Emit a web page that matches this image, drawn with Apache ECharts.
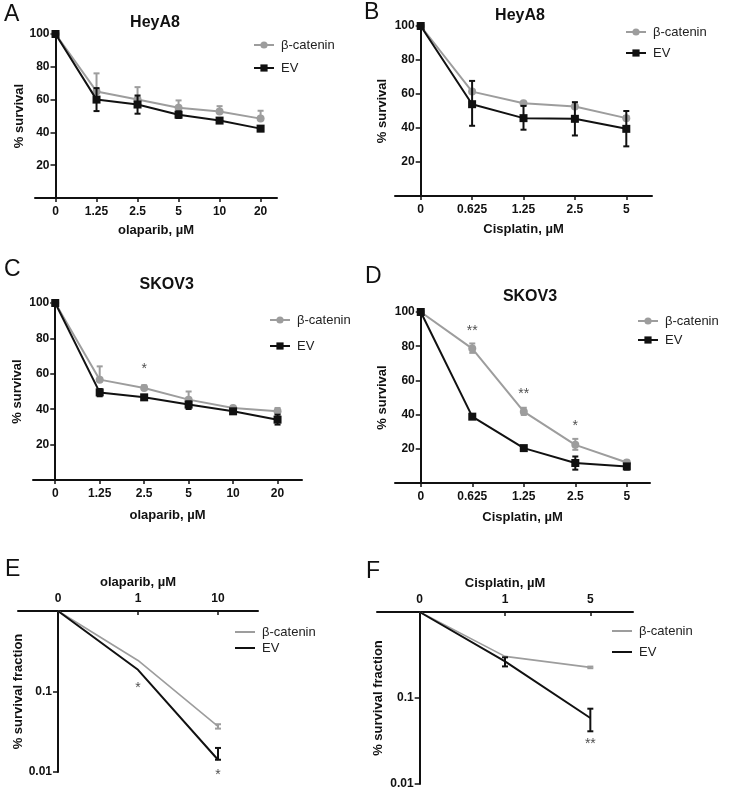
<!DOCTYPE html>
<html><head><meta charset="utf-8">
<script src="https://cdn.jsdelivr.net/npm/echarts@6/dist/echarts.min.js"></script>
<style>html,body{margin:0;padding:0;background:#fff}#c{width:729px;height:791px}</style>
</head><body><div id="c"></div>
<script>
// ---------- DATA ----------
// Panel A: HeyA8, olaparib
const A_cats = ['0', '1.25', '2.5', '5', '10', '20'];
const A_bcat = [100, 65, 60, 55, 52.8, 48.4];
const A_bcat_lo = [100, 65, 60, 55, 52.8, 48.4];
const A_bcat_hi = [100, 76, 67.6, 59.5, 56, 53.2];
const A_ev = [100, 60, 57, 50.8, 47.2, 42.3];
const A_ev_lo = [100, 53, 51.4, 48.8, 46.2, 40.8];
const A_ev_hi = [100, 67, 62.5, 52.8, 48.2, 43.8];
const A_stars = [];

// Panel B: HeyA8, cisplatin
const B_cats = ['0', '0.625', '1.25', '2.5', '5'];
const B_bcat = [100, 61.4, 54.6, 52.6, 45.8];
const B_bcat_lo = [100, 61.4, 54.6, 52.6, 45.8];
const B_bcat_hi = [100, 62.2, 55.3, 53.5, 47];
const B_ev = [100, 54, 45.8, 45.4, 39.5];
const B_ev_lo = [100, 41.3, 39, 35.6, 29.2];
const B_ev_hi = [100, 67.7, 53, 55.2, 50];
const B_stars = [];

// Panel C: SKOV3, olaparib
const C_cats = ['0', '1.25', '2.5', '5', '10', '20'];
const C_bcat = [100, 56.7, 52, 45.4, 40.7, 38.8];
const C_bcat_lo = [100, 56.7, 51, 45.4, 40.2, 37.5];
const C_bcat_hi = [100, 64.2, 53.5, 50, 41.2, 40.7];
const C_ev = [100, 49.5, 46.7, 42.6, 38.8, 34.1];
const C_ev_lo = [100, 47.3, 46, 40.1, 38, 31.3];
const C_ev_hi = [100, 51.4, 47.5, 44.4, 39.6, 36.9];
const C_stars = [[2, 64.2, '*']];

// Panel D: SKOV3, cisplatin
const D_cats = ['0', '0.625', '1.25', '2.5', '5'];
const D_bcat = [100, 78.6, 41.7, 22.3, 12];
const D_bcat_lo = [100, 76.1, 39.8, 19.4, 11];
const D_bcat_hi = [100, 81.6, 44, 25.8, 13];
const D_ev = [100, 38.8, 20.4, 11.7, 9.7];
const D_ev_lo = [100, 38, 19.6, 7.8, 7.8];
const D_ev_hi = [100, 39.6, 21.2, 15.5, 11];
const D_stars = [[1, 90.3, '**'], [2, 54, '**'], [3, 35, '*']];

// Panel E: survival fraction, olaparib (log)
const E_cats = ['0', '1', '10'];
const E_bcat = [1, 0.243, 0.0368];
const E_bcat_lo = [1, 0.243, 0.0346];
const E_bcat_hi = [1, 0.243, 0.0392];
const E_ev = [1, 0.186, 0.0142];
const E_ev_lo = [1, 0.186, 0.0142];
const E_ev_hi = [1, 0.186, 0.0199];
const E_stars = [[1, 0.121, '*'], [2, 0.0101, '*']];

// Panel F: survival fraction, cisplatin (log)
const F_cats = ['0', '1', '5'];
const F_bcat = [1, 0.305, 0.227];
const F_bcat_lo = [1, 0.305, 0.222];
const F_bcat_hi = [1, 0.305, 0.232];
const F_ev = [1, 0.267, 0.0585];
const F_ev_lo = [1, 0.233, 0.041];
const F_ev_hi = [1, 0.297, 0.0751];
const F_stars = [[2, 0.0313, '**']];

// ---------- STYLE / LAYOUT ----------
const FONT = "'Liberation Sans', Arial, Helvetica, sans-serif";
const GRAY = '#9d9d9d', BLACK = '#111111', TXT = '#111111';

const panels = [
  { letter: 'A', title: 'HeyA8', xName: 'olaparib, µM', cats: A_cats, bcat: A_bcat, bLo: A_bcat_lo, bHi: A_bcat_hi, ev: A_ev, eLo: A_ev_lo, eHi: A_ev_hi, stars: A_stars,
    grid: { left: 35, top: 34, width: 242, height: 164 }, xmax: 5.4, log: false, xGap: 26, yGap: 29,
    legend: { left: 253, top: 37, gap: 7 }, letterPos: [4, 3], titlePos: [155, 23] },
  { letter: 'B', title: 'HeyA8', xName: 'Cisplatin, µM', cats: B_cats, bcat: B_bcat, bLo: B_bcat_lo, bHi: B_bcat_hi, ev: B_ev, eLo: B_ev_lo, eHi: B_ev_hi, stars: B_stars,
    grid: { left: 395, top: 26, width: 257, height: 170 }, xmax: 4.5, log: false, xGap: 27, yGap: 32,
    legend: { left: 625, top: 24, gap: 5 }, letterPos: [364, 1], titlePos: [520, 15.5] },
  { letter: 'C', title: 'SKOV3', xName: 'olaparib, µM', cats: C_cats, bcat: C_bcat, bLo: C_bcat_lo, bHi: C_bcat_hi, ev: C_ev, eLo: C_ev_lo, eHi: C_ev_hi, stars: C_stars,
    grid: { left: 33, top: 303, width: 269, height: 177 }, xmax: 5.55, log: false, xGap: 29, yGap: 31,
    legend: { left: 269, top: 312, gap: 10 }, letterPos: [4, 258], titlePos: [166.7, 285] },
  { letter: 'D', title: 'SKOV3', xName: 'Cisplatin, µM', cats: D_cats, bcat: D_bcat, bLo: D_bcat_lo, bHi: D_bcat_hi, ev: D_ev, eLo: D_ev_lo, eHi: D_ev_hi, stars: D_stars,
    grid: { left: 395, top: 312, width: 255, height: 171 }, xmax: 4.45, log: false, xGap: 28, yGap: 32,
    legend: { left: 637, top: 313, gap: 3 }, letterPos: [365, 265], titlePos: [530, 296.7] },
  { letter: 'E', title: '', xName: 'olaparib, µM', cats: E_cats, bcat: E_bcat, bLo: E_bcat_lo, bHi: E_bcat_hi, ev: E_ev, eLo: E_ev_lo, eHi: E_ev_hi, stars: E_stars,
    grid: { left: 18, top: 611, width: 240, height: 161 }, xmax: 2.5, log: true, xGap: 22, yGap: 33,
    legend: { left: 235, top: 624, gap: 0 }, letterPos: [5, 558], titlePos: null },
  { letter: 'F', title: '', xName: 'Cisplatin, µM', cats: F_cats, bcat: F_bcat, bLo: F_bcat_lo, bHi: F_bcat_hi, ev: F_ev, eLo: F_ev_lo, eHi: F_ev_hi, stars: F_stars,
    grid: { left: 377, top: 612, width: 256, height: 172 }, xmax: 2.5, log: true, xGap: 22, yGap: 35,
    legend: { left: 612, top: 623, gap: 5 }, letterPos: [366, 560], titlePos: null }
];

function errRender(color, lw) {
  return function (params, api) {
    const x = api.value(0), lo = api.value(1), hi = api.value(2);
    const pLo = api.coord([x, lo]), pHi = api.coord([x, hi]);
    const w = 3;
    const st = { stroke: color, lineWidth: lw };
    return {
      type: 'group', children: [
        { type: 'line', shape: { x1: pLo[0], y1: pLo[1], x2: pHi[0], y2: pHi[1] }, style: st },
        { type: 'line', shape: { x1: pHi[0] - w, y1: pHi[1], x2: pHi[0] + w, y2: pHi[1] }, style: st },
        { type: 'line', shape: { x1: pLo[0] - w, y1: pLo[1], x2: pLo[0] + w, y2: pLo[1] }, style: st }
      ]
    };
  };
}

const grids = [], xAxes = [], yAxes = [], series = [], legends = [], graphics = [];
const labelFont = { fontFamily: FONT, fontSize: 12, fontWeight: 'bold', color: TXT };
const nameFont = { fontFamily: FONT, fontSize: 13, fontWeight: 'bold', color: TXT };

panels.forEach(function (p, i) {
  grids.push(Object.assign({ containLabel: false, outerBoundsMode: 'none' }, p.grid));
  const idxs = p.cats.map(function (_, k) { return k; });
  // y axis sits at x = 0 (first dose), 0.5 unit right of the grid's left edge
  const yOffset = -(0.5 / (p.xmax + 0.5)) * p.grid.width;
  xAxes.push({
    gridIndex: i, type: 'value', min: -0.5, max: p.xmax,
    position: p.log ? 'top' : 'bottom',
    name: p.xName, nameLocation: 'middle', nameGap: p.xGap, nameTextStyle: nameFont,
    axisLine: { onZero: false, lineStyle: { color: BLACK, width: 2 } },
    axisTick: { customValues: idxs, inside: p.log, length: 4, lineStyle: { color: BLACK, width: 1.5 } },
    axisLabel: Object.assign({ customValues: idxs, margin: p.log ? 6 : 8, formatter: function (v) { return p.cats[Math.round(v)]; } }, labelFont),
    splitLine: { show: false }
  });
  const yCommon = {
    gridIndex: i, position: 'left', offset: yOffset, nameLocation: 'middle', nameGap: p.yGap, nameTextStyle: nameFont,
    axisLine: { onZero: false, lineStyle: { color: BLACK, width: 2 } },
    axisTick: { length: 5, lineStyle: { color: BLACK, width: 1.5 } },
    splitLine: { show: false }
  };
  if (p.log) {
    yAxes.push(Object.assign({}, yCommon, {
      type: 'log', logBase: 10, min: 0.01, max: 1, name: '% survival fraction',
      axisLabel: Object.assign({ margin: 6, formatter: function (v) { return v > 0.5 ? '' : String(+v.toPrecision(2)); } }, labelFont)
    }));
  } else {
    yAxes.push(Object.assign({}, yCommon, {
      type: 'value', min: 0, max: 100, interval: 20, name: '% survival',
      axisLabel: Object.assign({ margin: 6, formatter: function (v) { return v === 0 ? '' : String(v); } }, labelFont)
    }));
  }

  const errB = p.bLo.map(function (lo, k) { return [k, lo, p.bHi[k]]; }).filter(function (d) { return d[2] > d[1]; });
  const errE = p.eLo.map(function (lo, k) { return [k, lo, p.eHi[k]]; }).filter(function (d) { return d[2] > d[1]; });

  series.push({
    type: 'custom', name: 'bcat-err-' + i, xAxisIndex: i, yAxisIndex: i, z: 1,
    renderItem: errRender(GRAY, 2), data: errB, encode: { x: 0, y: [1, 2] }, silent: true
  });
  series.push({
    type: 'line', name: 'β-catenin', xAxisIndex: i, yAxisIndex: i, z: 2,
    data: p.bcat.map(function (v, k) { return [k, v]; }),
    symbol: p.log ? 'none' : 'circle', symbolSize: 8, showSymbol: !p.log,
    itemStyle: { color: GRAY }, lineStyle: { color: GRAY, width: p.log ? 1.6 : 2 },
    animation: false, silent: true
  });
  series.push({
    type: 'custom', name: 'ev-err-' + i, xAxisIndex: i, yAxisIndex: i, z: 3,
    renderItem: errRender(BLACK, 2), data: errE, encode: { x: 0, y: [1, 2] }, silent: true
  });
  series.push({
    type: 'line', name: 'EV', xAxisIndex: i, yAxisIndex: i, z: 4,
    data: p.ev.map(function (v, k) { return [k, v]; }),
    symbol: p.log ? 'none' : 'rect', symbolSize: 8, showSymbol: !p.log,
    itemStyle: { color: BLACK }, lineStyle: { color: BLACK, width: 2 },
    animation: false, silent: true
  });
  if (p.stars.length) {
    series.push({
      type: 'scatter', name: 'stars-' + i, xAxisIndex: i, yAxisIndex: i, z: 5,
      symbolSize: 0, clip: false, silent: true,
      data: p.stars.map(function (s) { return { value: [s[0], s[1]], label: { formatter: s[2] } }; }),
      label: { show: true, position: 'inside', offset: [0, 3], fontFamily: FONT, fontSize: 14, color: '#222' }
    });
  }

  const lg = {
    left: p.legend.left, top: p.legend.top, orient: 'vertical', padding: 0,
    itemWidth: 20, itemHeight: p.log ? 2 : 9, itemGap: p.legend.gap,
    data: ['β-catenin', 'EV'], selectedMode: false,
    textStyle: { fontFamily: FONT, fontSize: 13, color: '#222', lineHeight: 16, padding: [0, 0, 0, 2] }
  };
  if (p.log) lg.icon = 'rect';
  legends.push(lg);

  graphics.push({ type: 'text', left: p.letterPos[0], top: p.letterPos[1], style: { text: p.letter, font: '23px ' + FONT, fill: TXT } });
  if (p.titlePos) {
    graphics.push({ type: 'text', x: p.titlePos[0], y: p.titlePos[1], style: { text: p.title, font: 'bold 16px ' + FONT, fill: TXT, align: 'center', verticalAlign: 'middle' } });
  }
});

const chart = echarts.init(document.getElementById('c'), null, { renderer: 'canvas' });
chart.setOption({
  animation: false,
  backgroundColor: '#ffffff',
  grid: grids, xAxis: xAxes, yAxis: yAxes, series: series, legend: legends, graphic: graphics
});
</script></body></html>
